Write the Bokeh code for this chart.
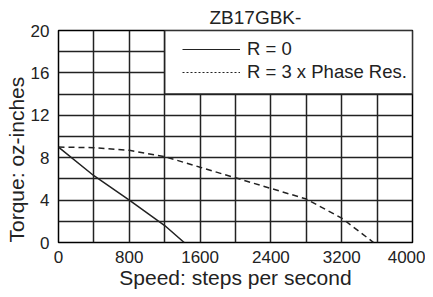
import math
from bokeh.plotting import figure
from bokeh.models import Range1d, FixedTicker, BoxAnnotation, Legend, LegendItem, Title, ColumnDataSource
from bokeh.embed import file_html
from bokeh.resources import INLINE

# data
speed_r0 = [0, 400, 800, 1200, 1420]
torque_r0 = [9.0, 6.3, 4.0, 1.6, 0.0]
speed_r3 = [0, 400, 800, 1200, 1600, 2000, 2400, 2800, 3200, 3560]
torque_r3 = [9.0, 8.95, 8.7, 8.1, 7.1, 6.1, 5.1, 4.1, 2.3, 0.0]
x_ticks = [0, 800, 1600, 2400, 3200, 4000]
y_ticks = [0, 4, 8, 12, 16, 20]
x_grid = list(range(0, 4001, 400))
y_grid = list(range(0, 21, 2))
title_text = "ZB17GBK-"
x_label = "Speed: steps per second"
y_label = "Torque: oz-inches"
legend_labels = ["R = 0", "R = 3 x Phase Res."]

FONT = "Liberation Sans"
INK = "#222"

p = figure(width=425, height=295, output_backend="svg", toolbar_location=None,
           x_range=Range1d(0, 4000), y_range=Range1d(0, 20),
           min_border_left=58, min_border_right=13, min_border_top=30, min_border_bottom=53)
p.title = None
p.add_layout(Title(text=title_text, align="left", offset=151, text_font=FONT,
                   text_font_size="19px", text_font_style="normal", text_color=INK,
                   standoff=5), "above")
p.add_layout(Title(text=y_label, align="left", offset=0, text_font=FONT,
                   text_font_size="21px", text_font_style="normal", text_color=INK,
                   standoff=0), "left")

p.outline_line_color = "black"
p.outline_line_width = 1.5
p.background_fill_color = "white"
p.border_fill_color = "white"

for ax in (p.xaxis[0], p.yaxis[0]):
    ax.axis_line_color = None
    ax.major_tick_line_color = None
    ax.minor_tick_line_color = None
    ax.major_tick_out = 0
    ax.major_tick_in = 0
    ax.major_label_text_font = FONT
    ax.major_label_text_font_size = "17px"
    ax.major_label_text_color = INK
    ax.major_label_standoff = 9

p.xaxis.major_label_standoff = 8
p.xaxis.ticker = FixedTicker(ticks=x_ticks)
p.yaxis.ticker = FixedTicker(ticks=y_ticks)
p.xaxis.axis_label = x_label
p.xaxis.axis_label_text_font = FONT
p.xaxis.axis_label_text_font_size = "21px"
p.xaxis.axis_label_text_font_style = "normal"
p.xaxis.axis_label_text_color = INK
p.xaxis.axis_label_standoff = 0

p.xgrid.ticker = FixedTicker(ticks=x_grid)
p.ygrid.ticker = FixedTicker(ticks=y_grid)
for g in (p.xgrid[0], p.ygrid[0]):
    g.grid_line_color = INK
    g.grid_line_width = 1.5
    g.grid_line_alpha = 1

p.line(speed_r0, torque_r0, line_color=INK, line_width=1.5)
p.line(speed_r3, torque_r3, line_color=INK, line_width=1.5, line_dash="6 4")

box = BoxAnnotation(left=1200, right=4000, bottom=14, top=20, fill_color="white",
                    fill_alpha=1, line_color=INK, line_width=1.5, line_alpha=1)
p.add_layout(box)

nan_src = ColumnDataSource(data=dict(x=[math.nan], y=[math.nan]))
r_a = p.line("x", "y", source=nan_src, line_color=INK, line_width=1.2)
r_b = p.line("x", "y", source=nan_src, line_color=INK, line_width=1.2, line_dash="2 2")

legend = Legend(items=[LegendItem(label=legend_labels[0], renderers=[r_a]),
                       LegendItem(label=legend_labels[1], renderers=[r_b])],
                location=(124, 159), border_line_alpha=0, background_fill_alpha=0,
                padding=0, margin=0, glyph_width=58, glyph_height=20, label_height=20,
                label_standoff=7, spacing=1, label_text_font=FONT,
                label_text_font_size="18.5px", label_text_color=INK)
p.add_layout(legend)

open("out.html", "w").write(file_html(p, INLINE))
